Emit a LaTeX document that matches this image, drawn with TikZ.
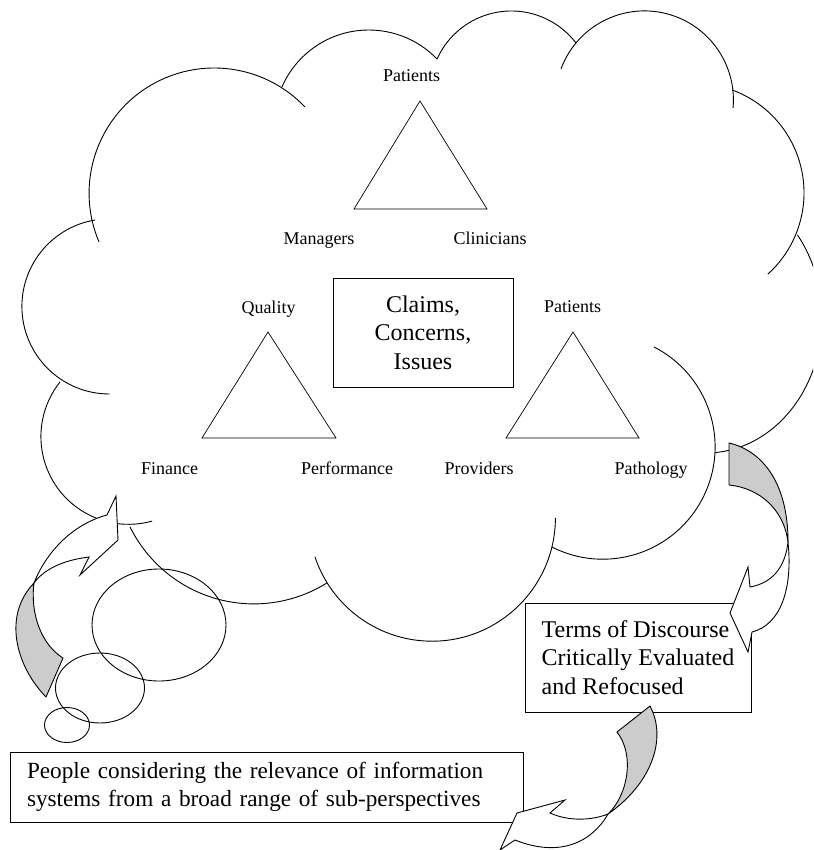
\documentclass[tikz,border=0pt]{standalone}
\usepackage{fontspec}
\setmainfont{Liberation Serif}
\definecolor{flapgrey}{gray}{0.8}

\begin{document}
\begin{tikzpicture}[x=1pt,y=-1pt,line width=0.9pt,
  lbl/.style={font=\fontsize{18}{21}\selectfont,anchor=base,inner sep=0pt},
  txtbox/.style={draw,fill=white,font=\fontsize{24}{28.5}\selectfont},
  flap/.style={draw,fill=flapgrey,line join=round},
  band/.style={draw,fill=white,line join=miter}]
\useasboundingbox (0,0) rectangle (813,850);
\clip (0,0) rectangle (813,850);

\draw (109.5,306.4) ++(90:87.6) arc[start angle=90,end angle=260.5,radius=87.6];
\draw (214.2,193.1) ++(157:125.1) arc[start angle=157,end angle=316.5,radius=125.1];
\draw (368.8,124.7) ++(203.5:94.7) arc[start angle=203.5,end angle=316.1,radius=94.7];
\draw (511.3,92.4) ++(204.2:81.4) arc[start angle=204.2,end angle=322.6,radius=81.4];
\draw (644.4,99.9) ++(200.3:89) arc[start angle=200.3,end angle=365.2,radius=89];
\draw (694.5,192.8) ++(-70:109.5) arc[start angle=-70,end angle=48,radius=109.5];
\draw (706,318) ++(-38:116 and 135) arc[start angle=-38,end angle=85.5,x radius=116,y radius=135];
\draw (602.8,446.9) ++(-62.9:112.3) arc[start angle=-62.9,end angle=117,radius=112.3];
\draw (432,517.8) ++(0:123.4) arc[start angle=0,end angle=161.5,radius=123.4];
\draw (253.8,465.9) ++(58:138) arc[start angle=58,end angle=153.7,radius=138];
\draw (128.6,436.6) ++(74.5:87.7) arc[start angle=74.5,end angle=218.5,radius=87.7];

\draw (159,625) ellipse[x radius=67,y radius=56];
\draw (100,688) ellipse[x radius=44.5,y radius=35];
\draw (67,725) ellipse[x radius=22.5,y radius=17.5];

\draw[line width=0.7pt] (420,101) -- (354,209) -- (487,209) -- cycle;
\draw[line width=0.7pt] (268,332) -- (202,438) -- (336,438) -- cycle;
\draw[line width=0.7pt] (573,332) -- (506,438) -- (639,438) -- cycle;

\node[lbl] (patTop) at (411.5,82) {Patients};
\node[lbl] (managers) at (319,244) {Managers};
\node[lbl] (clinicians) at (490,244) {Clinicians};
\node[lbl] (quality) at (268.5,313) {Quality};
\node[lbl] (patRight) at (572.5,312) {Patients};
\node[lbl] (finance) at (169.5,474) {Finance};
\node[lbl] (performance) at (347,474) {Performance};
\node[lbl] (providers) at (479,474) {Providers};
\node[lbl] (pathology) at (651,474) {Pathology};

\node[txtbox,minimum width=180pt,minimum height=109pt,align=center] (claims) at (423,332.5)
  {Claims,\\Concerns,\\Issues};
\node[txtbox,minimum width=226pt,minimum height=109pt,align=left] (terms) at (638,657.5)
  {Terms of Discourse\\Critically Evaluated\\and Refocused};
\node[txtbox,font=\fontsize{23.2}{27.5}\selectfont,minimum height=70pt,text width=479pt,inner xsep=17pt,align=left] (people) at (266.5,787)
  {People considering the relevance of information\\systems from a broad range of sub-perspectives};

\filldraw[flap] (46,697) .. controls (15,665) and (3,615) .. (34,583)
  .. controls (30,615) and (42,645) .. (63,658) -- cycle;
\filldraw[band] (34,583) .. controls (45,555) and (70,525) .. (107,515) -- (116,496) -- (118,540)
  -- (80,575) -- (89,557) .. controls (65,560) and (45,568) .. (34,583) -- cycle;

\filldraw[flap] (729,443) .. controls (760,450) and (788,480) .. (788,542)
  .. controls (784,510) and (760,488) .. (729,485) -- cycle;
\filldraw[band] (788,542) .. controls (793,590) and (780,625) .. (752,632) -- (748,652) -- (730,613)
  -- (748,567) -- (750,587) .. controls (772,583) and (785,568) .. (788,542) -- cycle;

\filldraw[flap] (650,706) .. controls (668,740) and (650,785) .. (608,814)
  .. controls (628,795) and (635,755) .. (617,732) -- cycle;
\filldraw[band] (608,814) .. controls (592,842) and (560,858) .. (515,840) -- (500,850) -- (517,813)
  -- (565,800) -- (550,813) .. controls (570,822) and (593,820) .. (608,814) -- cycle;
\end{tikzpicture}
\end{document}
